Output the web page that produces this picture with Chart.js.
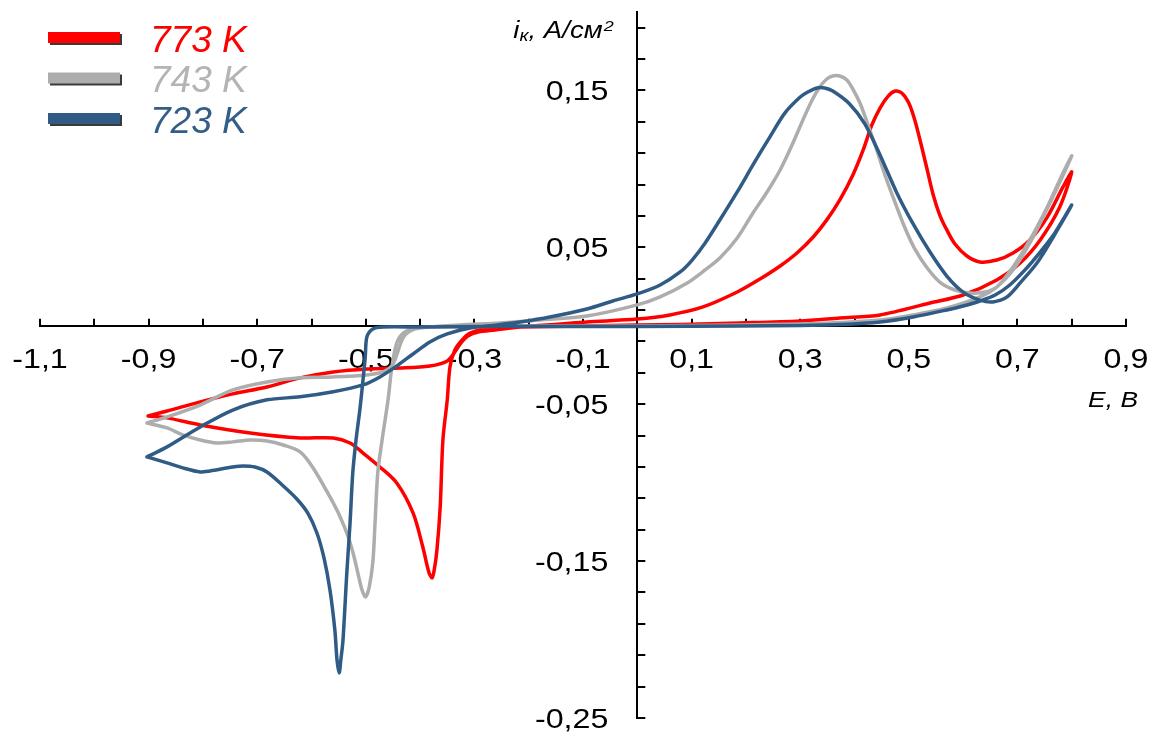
<!DOCTYPE html>
<html>
<head>
<meta charset="utf-8">
<script src="https://cdn.jsdelivr.net/npm/chart.js@4.4.1/dist/chart.umd.min.js"></script>
<style>
  html, body { margin: 0; padding: 0; background: #fff; }
  #wrap { width: 1151px; height: 733px; position: relative; }
</style>
</head>
<body>
<div id="wrap"><canvas id="cvaChart"></canvas></div>
<script>
// temperatures and colours
const seriesLabels = ['773 K', '743 K', '723 K'];
const lineColors = ['#FF0000', '#ADADAD', '#2F5B85'];
const textColors = ['#FF0000', '#B4B4B4', '#335E88'];

// 773 K: E (V) and i (A/cm2), forward branch then return branch
const e773 = [-0.901,-0.866,-0.805,-0.745,-0.682,-0.621,-0.560,-0.498,-0.437,-0.382,-0.350,-0.336,-0.325,-0.312,-0.293,-0.262,-0.216,-0.142,-0.093,
  0.000,0.060,0.121,0.184,0.226,0.263,0.294,0.324,0.349,0.373,0.397,0.416,0.432,0.447,0.462,0.475,0.487,0.500,0.511,0.522,0.534,0.545,0.557,0.570,0.585,0.607,0.631,0.662,0.692,0.723,0.755,0.784,0.800,
  0.778,0.742,0.705,0.662,0.600,0.539,0.447,0.373,0.300,0.189,0.079,0.000,-0.106,-0.216,-0.271,-0.308,-0.323,-0.336,-0.345,-0.350,-0.358,-0.363,-0.369,-0.374,-0.378,-0.384,-0.395,-0.413,-0.443,-0.474,-0.505,-0.529,-0.560,-0.621,-0.713,-0.805,-0.866,-0.901];
const i773 = [-0.0575,-0.0543,-0.0485,-0.0434,-0.0390,-0.0332,-0.0294,-0.0275,-0.0269,-0.0256,-0.0224,-0.0167,-0.0110,-0.0065,-0.0040,-0.0027,-0.0008,0.0011,0.0024,
  0.0043,0.0069,0.0120,0.0215,0.0298,0.0381,0.0464,0.0566,0.0675,0.0802,0.0961,0.1121,0.1280,0.1388,0.1464,0.1496,0.1484,0.1420,0.1312,0.1165,0.0993,0.0834,0.0706,0.0611,0.0521,0.0445,0.0407,0.0419,0.0464,0.0547,0.0693,0.0885,0.0980,
  0.0757,0.0547,0.0400,0.0292,0.0196,0.0145,0.0069,0.0050,0.0031,0.0018,0.0008,0.0005,-0.0001,-0.0008,-0.0014,-0.0046,-0.0091,-0.0154,-0.0263,-0.0472,-0.0728,-0.1155,-0.1429,-0.1557,-0.1607,-0.1569,-0.1410,-0.1193,-0.1002,-0.0900,-0.0811,-0.0747,-0.0715,-0.0715,-0.0683,-0.0632,-0.0587,-0.0575];

// 743 K
const e743 = [-0.903,-0.866,-0.805,-0.745,-0.682,-0.621,-0.560,-0.498,-0.468,-0.452,-0.443,-0.435,-0.426,-0.409,-0.382,-0.327,-0.253,-0.179,-0.093,
  0.000,0.042,0.092,0.125,0.152,0.184,0.213,0.239,0.263,0.285,0.305,0.322,0.336,0.349,0.360,0.373,0.386,0.397,0.410,0.423,0.438,0.456,0.475,0.493,0.511,0.534,0.557,0.585,0.613,0.640,0.662,0.692,0.723,0.755,0.784,0.800,
  0.760,0.723,0.692,0.662,0.631,0.570,0.508,0.447,0.373,0.300,0.189,0.000,-0.142,-0.290,-0.387,-0.413,-0.431,-0.443,-0.452,-0.459,-0.470,-0.478,-0.483,-0.487,-0.494,-0.501,-0.507,-0.513,-0.522,-0.533,-0.548,-0.566,-0.597,-0.621,-0.652,-0.682,-0.713,-0.745,-0.774,-0.805,-0.837,-0.866,-0.903];
const i743 = [-0.0620,-0.0581,-0.0505,-0.0409,-0.0358,-0.0332,-0.0326,-0.0313,-0.0294,-0.0256,-0.0186,-0.0103,-0.0052,-0.0020,-0.0008,0.0005,0.0018,0.0037,0.0062,
  0.0133,0.0184,0.0273,0.0356,0.0432,0.0560,0.0719,0.0853,0.0993,0.1152,0.1312,0.1439,0.1522,0.1573,0.1592,0.1592,0.1567,0.1509,0.1420,0.1299,0.1152,0.0961,0.0783,0.0623,0.0490,0.0368,0.0279,0.0228,0.0209,0.0215,0.0247,0.0375,0.0547,0.0757,0.0974,0.1082,
  0.0783,0.0528,0.0356,0.0247,0.0184,0.0113,0.0069,0.0037,0.0021,0.0011,0.0005,-0.0001,-0.0001,-0.0004,-0.0008,-0.0020,-0.0046,-0.0110,-0.0263,-0.0472,-0.0728,-0.0938,-0.1257,-0.1505,-0.1670,-0.1729,-0.1684,-0.1601,-0.1467,-0.1340,-0.1212,-0.1091,-0.0906,-0.0804,-0.0760,-0.0734,-0.0728,-0.0740,-0.0747,-0.0728,-0.0696,-0.0651,-0.0620];

// 723 K
const e723 = [-0.903,-0.866,-0.805,-0.745,-0.682,-0.621,-0.560,-0.505,-0.474,-0.443,-0.413,-0.382,-0.350,-0.308,-0.258,-0.216,-0.161,-0.093,-0.045,
  0.000,0.042,0.079,0.101,0.125,0.152,0.184,0.213,0.244,0.272,0.300,0.314,0.331,0.345,0.360,0.391,0.419,0.447,0.478,0.508,0.539,0.570,0.600,0.631,0.655,0.681,0.705,0.736,0.766,0.800,
  0.769,0.742,0.714,0.686,0.659,0.631,0.600,0.570,0.508,0.447,0.373,0.300,0.189,0.000,-0.142,-0.290,-0.400,-0.468,-0.487,-0.498,-0.501,-0.507,-0.511,-0.518,-0.524,-0.529,-0.535,-0.542,-0.546,-0.549,-0.553,-0.557,-0.566,-0.577,-0.590,-0.607,-0.627,-0.652,-0.682,-0.704,-0.726,-0.745,-0.787,-0.805,-0.837,-0.866,-0.903];
const i723 = [-0.0836,-0.0772,-0.0645,-0.0537,-0.0472,-0.0453,-0.0421,-0.0377,-0.0326,-0.0256,-0.0180,-0.0103,-0.0052,-0.0014,0.0005,0.0024,0.0056,0.0107,0.0158,
  0.0203,0.0260,0.0343,0.0419,0.0528,0.0674,0.0853,0.1025,0.1203,0.1357,0.1458,0.1490,0.1516,0.1516,0.1496,0.1414,0.1287,0.1089,0.0847,0.0649,0.0470,0.0317,0.0215,0.0164,0.0152,0.0184,0.0273,0.0400,0.0566,0.0770,
  0.0592,0.0470,0.0356,0.0260,0.0196,0.0158,0.0126,0.0101,0.0056,0.0024,0.0008,0.0002,-0.0001,-0.0004,-0.0004,-0.0004,-0.0008,-0.0008,-0.0020,-0.0071,-0.0199,-0.0409,-0.0537,-0.0728,-0.0938,-0.1257,-0.1576,-0.2003,-0.2130,-0.2213,-0.2130,-0.1939,-0.1684,-0.1480,-0.1321,-0.1193,-0.1104,-0.1021,-0.0932,-0.0900,-0.0893,-0.0900,-0.0925,-0.0932,-0.0906,-0.0874,-0.0836];

// axis ticks
const xTicks = [-1.1,-1.0,-0.9,-0.8,-0.7,-0.6,-0.5,-0.4,-0.3,-0.2,-0.1,0,0.1,0.2,0.3,0.4,0.5,0.6,0.7,0.8,0.9];
const xTickLabels = ['-1,1','','-0,9','','-0,7','','-0,5','','-0,3','','-0,1','','0,1','','0,3','','0,5','','0,7','','0,9'];
const yTicks = [-0.25,-0.23,-0.21,-0.19,-0.17,-0.15,-0.13,-0.11,-0.09,-0.07,-0.05,-0.03,-0.01,0.01,0.03,0.05,0.07,0.09,0.11,0.13,0.15,0.17,0.19];
const yTickLabels = ['-0,25','','','','','-0,15','','','','','-0,05','','','','','0,05','','','','','0,15','',''];

const FONT = "'Liberation Sans', Arial, sans-serif";

function toPoints(e, i) { return e.map((v, k) => ({ x: v, y: i[k] })); }

// the reference text is a little wider than the font: scale it horizontally
function stretchText(ctx, str, x, y, font, sx, align) {
    ctx.save();
    ctx.translate(x, y);
    ctx.scale(sx, 1);
    ctx.font = font;
    ctx.textAlign = align || 'left';
    ctx.textBaseline = 'alphabetic';
    ctx.fillText(str, 0, 0);
    const w = ctx.measureText(str).width * sx;
    ctx.restore();
    return w;
}

// axes cross at the origin: keep label padding from shrinking the plot
function noPadding(s) { s.paddingLeft = 0; s.paddingRight = 0; s.paddingTop = 0; s.paddingBottom = 0; }

const axisMarks = {
    id: 'axisMarks',
    beforeDatasetsDraw(chart) {
        const { ctx, scales: { x, y } } = chart;
        const x0 = x.getPixelForValue(0), y0 = y.getPixelForValue(0);
        ctx.save();
        ctx.strokeStyle = '#000';
        ctx.lineWidth = 2;
        ctx.beginPath();
        xTicks.forEach(v => { const p = Math.round(x.getPixelForValue(v)); ctx.moveTo(p, y0); ctx.lineTo(p, y0 - 7); });
        yTicks.forEach(v => { const p = Math.round(y.getPixelForValue(v)); ctx.moveTo(x0, p); ctx.lineTo(x0 + 8, p); });
        ctx.stroke();
        ctx.fillStyle = '#000';
        const tickFont = '28px ' + FONT;
        xTicks.forEach((v, k) => {
            if (xTickLabels[k]) stretchText(ctx, xTickLabels[k], x.getPixelForValue(v), y0 + 42, tickFont, 1.15, 'center');
        });
        yTicks.forEach((v, k) => {
            if (yTickLabels[k]) stretchText(ctx, yTickLabels[k], x0 - 29, y.getPixelForValue(v) + 10, tickFont, 1.15, 'right');
        });
        ctx.restore();
    }
};

const decor = {
    id: 'decor',
    afterDraw(chart) {
        const { ctx, scales: { x, y } } = chart;
        const x0 = x.getPixelForValue(0);
        const xEnd = x.getPixelForValue(0.9);
        const y0 = y.getPixelForValue(0);
        ctx.save();
        ctx.fillStyle = '#000';
        // y axis title: i_k, A/cm^2
        let px = x0 - 124;
        const by = y.getPixelForValue(0.2) + 26;
        px += stretchText(ctx, 'i', px, by, 'italic 23px ' + FONT, 1.2);
        px += stretchText(ctx, 'к', px, by + 3, 'italic 16px ' + FONT, 1.2);
        px += stretchText(ctx, ', А/см', px, by, 'italic 23px ' + FONT, 1.2);
        stretchText(ctx, '2', px + 1, by - 7, 'italic 15px ' + FONT, 1.2);
        // x axis title
        stretchText(ctx, 'E, В', xEnd + 12, y0 + 81, 'italic 22px ' + FONT, 1.2, 'right');
        // legend
        seriesLabels.forEach((lab, k) => {
            const cy = 38 + k * 40.5;
            ctx.fillStyle = '#3a3a3a';
            ctx.fillRect(50, cy - 4, 72, 11);
            ctx.fillStyle = lineColors[k];
            ctx.fillRect(48, cy - 6, 72, 11);
            ctx.fillStyle = textColors[k];
            ctx.font = 'italic 37px ' + FONT;
            ctx.textBaseline = 'alphabetic';
            ctx.textAlign = 'left';
            ctx.fillText(lab, 150, cy + 13.5);
        });
        ctx.restore();
    }
};

document.addEventListener('DOMContentLoaded', function () {
    const ctx = document.getElementById('cvaChart').getContext('2d');
    const series = [[e773, i773], [e743, i743], [e723, i723]];
    new Chart(ctx, {
        type: 'scatter',
        data: {
            datasets: series.map((s, k) => ({
                label: seriesLabels[k],
                data: toPoints(s[0], s[1]),
                showLine: true,
                borderColor: lineColors[k],
                backgroundColor: lineColors[k],
                borderWidth: 3.5,
                pointRadius: 0,
                tension: 0.3,
                borderJoinStyle: 'round',
                borderCapStyle: 'round',
                fill: false,
                order: 3 - k
            }))
        },
        options: {
            responsive: true,
            maintainAspectRatio: false,
            animation: false,
            layout: { padding: { left: 40, right: 25, top: 12, bottom: 15 } },
            plugins: { legend: { display: false }, tooltip: { enabled: false } },
            scales: {
                x: {
                    type: 'linear', min: -1.1, max: 0.9,
                    position: { y: 0 },
                    afterBuildTicks: s => { s.ticks = xTicks.map(v => ({ value: v })); },
                    afterFit: noPadding,
                    grid: { display: false, drawTicks: false },
                    border: { display: true, color: '#000', width: 2 },
                    ticks: { display: false }
                },
                y: {
                    type: 'linear', min: -0.25, max: 0.2,
                    position: { x: 0 },
                    afterBuildTicks: s => { s.ticks = yTicks.map(v => ({ value: v })); },
                    afterFit: noPadding,
                    grid: { display: false, drawTicks: false },
                    border: { display: true, color: '#000', width: 2 },
                    ticks: { display: false }
                }
            }
        },
        plugins: [axisMarks, decor]
    });
});
</script>
</body>
</html>
